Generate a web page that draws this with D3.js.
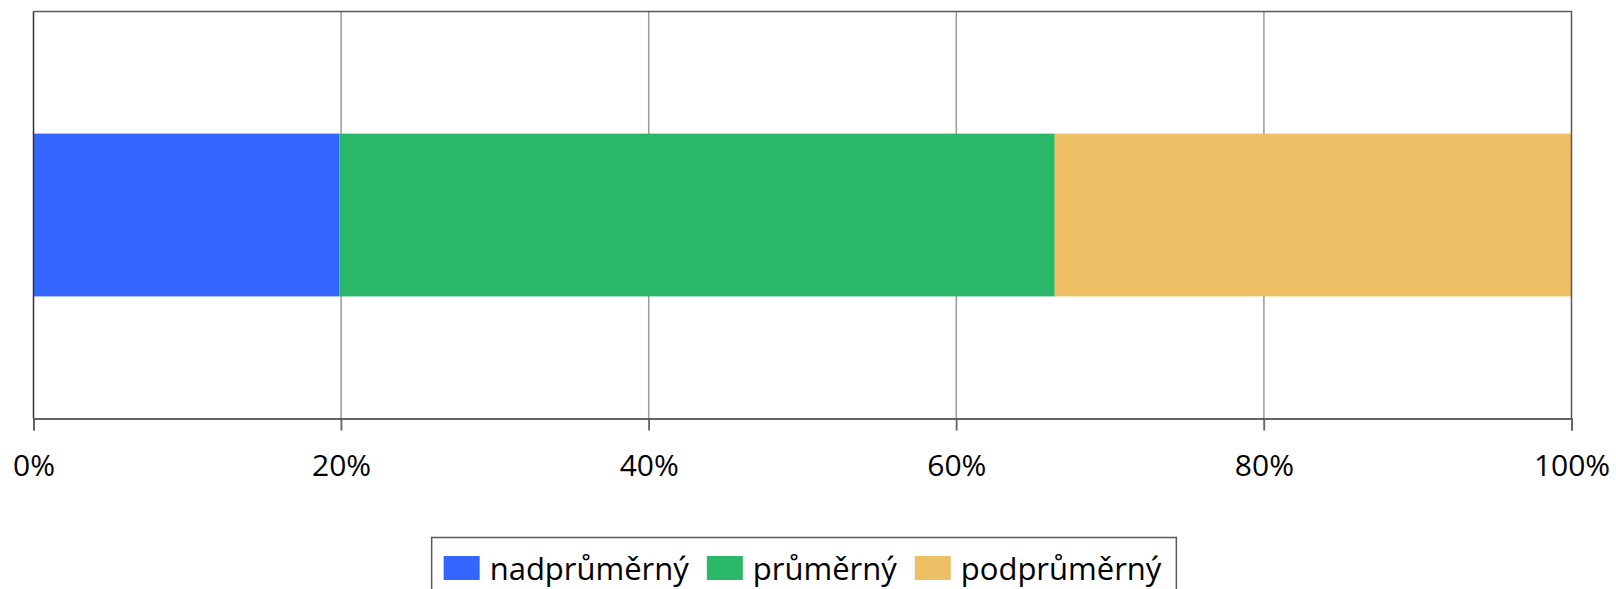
<!DOCTYPE html>
<html>
<head>
<meta charset="utf-8">
<script src="https://cdn.jsdelivr.net/npm/d3@7"></script>
<style>
  body { margin: 0; background: #fff; }
  text { font-family: "Open Sans", sans-serif; fill: #000; }
</style>
</head>
<body>
<div id="chart"></div>
<script>
(function() {
    const width = 1616;
    const height = 589;

    // data (percent of the single bar)
    const categories = [""];
    const seriesNames = ["nadprůměrný", "průměrný", "podprůměrný"];
    const seriesValues = [19.9, 46.5, 33.6];
    const seriesColors = ["#3366ff", "#2ab769", "#efbf65"];
    const tickValues = [0, 20, 40, 60, 80, 100];

    const margin = { top: 11.5, right: 44.5, bottom: 170.5, left: 33.5 };
    const innerW = width - margin.left - margin.right;
    const innerH = height - margin.top - margin.bottom;

    const svg = d3.select("#chart")
        .append("svg")
        .attr("width", width)
        .attr("height", height);

    const g = svg.append("g")
        .attr("transform", `translate(${margin.left},${margin.top})`);

    const x = d3.scaleLinear().domain([0, 100]).range([0, innerW]);
    const y = d3.scaleBand().domain(categories).range([0, innerH])
        .paddingInner(0.6).paddingOuter(0.3);

    // gridlines
    g.append("g")
        .selectAll("line")
        .data(tickValues.slice(1, -1))
        .enter().append("line")
        .attr("x1", d => x(d)).attr("x2", d => x(d))
        .attr("y1", 0).attr("y2", innerH + 12)
        .attr("stroke", "#999")
        .attr("stroke-width", 1.5);

    // stacked segments
    let acc = 0;
    const stacked = seriesValues.map((v, i) => {
        const s = { name: seriesNames[i], x0: acc, x1: acc + v, color: seriesColors[i] };
        acc += v;
        return s;
    });

    g.append("g")
        .selectAll("rect")
        .data(stacked)
        .enter().append("rect")
        .attr("x", d => x(d.x0))
        .attr("width", d => x(d.x1) - x(d.x0))
        .attr("y", y(categories[0]))
        .attr("height", y.bandwidth())
        .attr("fill", d => d.color);

    // plot border (top/right)
    g.append("path")
        .attr("d", `M0,0H${innerW}V${innerH}`)
        .attr("fill", "none")
        .attr("stroke", "#5a5a5a")
        .attr("stroke-width", 1.5);

    // x axis
    const xAxis = g.append("g")
        .attr("transform", `translate(0,${innerH})`)
        .call(d3.axisBottom(x).tickValues(tickValues).tickSize(12).tickPadding(24)
            .tickFormat(d => d + "%"));
    xAxis.select(".domain").attr("stroke", "#333").attr("stroke-width", 1.5);
    xAxis.selectAll(".tick line").attr("stroke", "#666").attr("stroke-width", 1.5);
    xAxis.selectAll("text")
        .style("font-family", "'Open Sans', sans-serif")
        .style("font-size", "30px")
        .attr("fill", "#000");

    // left axis line
    g.append("line")
        .attr("x1", 0).attr("x2", 0)
        .attr("y1", 0).attr("y2", innerH)
        .attr("stroke", "#333")
        .attr("stroke-width", 1.5);

    // legend
    const legend = svg.append("g");
    const box = legend.append("rect")
        .attr("fill", "#fff")
        .attr("stroke", "#5a5a5a")
        .attr("stroke-width", 1.5);

    let cx = 0;
    const items = legend.selectAll(".item")
        .data(stacked)
        .enter().append("g")
        .attr("class", "item");
    items.each(function(d) {
        const it = d3.select(this);
        it.append("rect")
            .attr("x", cx).attr("y", -12)
            .attr("width", 36).attr("height", 24)
            .attr("fill", d.color);
        const t = it.append("text")
            .attr("x", cx + 46).attr("y", 12)
            .style("font-size", "31px")
            .text(d.name);
        cx += 46 + t.node().getComputedTextLength() + 18;
    });
    const legendW = cx - 18;
    const legendX = margin.left + innerW / 2 - legendW / 2;
    items.attr("transform", `translate(${legendX},568)`);
    box.attr("x", legendX - 12)
        .attr("y", 537.5)
        .attr("width", legendW + 27)
        .attr("height", 80);
})();
</script>
</body>
</html>
